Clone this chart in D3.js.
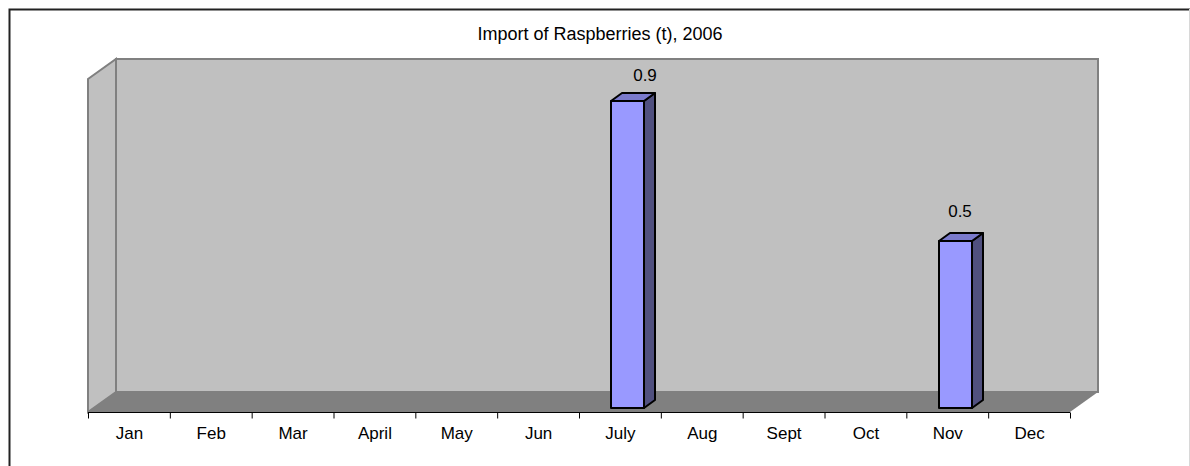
<!DOCTYPE html>
<html>
<head>
<meta charset="utf-8">
<script src="https://cdn.jsdelivr.net/npm/d3@7/dist/d3.min.js"></script>
<style>
html,body{margin:0;padding:0;background:#fff}
svg{display:block}
text{font-family:"Liberation Sans",Arial,sans-serif;fill:#000}
</style>
</head>
<body>
<svg id="c" width="1190" height="466"></svg>
<script>
const title = "Import of Raspberries (t), 2006";
const months = ["Jan","Feb","Mar","April","May","Jun","July","Aug","Sept","Oct","Nov","Dec"];
const imports = [null,null,null,null,null,null,0.92,null,null,null,0.5,null];

const svg = d3.select("#c");
const left = 88, right = 1070, axisY = 412, topY = 79, dx = 28, dy = 20;
const x = d3.scaleBand().domain(months).range([left, right]);
const y = d3.scaleLinear().domain([0, 1]).range([408, 74]);
const line = d3.line();
const labelNudge = {July:[34,-20], Nov:[21,-24]};

// frame
svg.append("path").attr("d","M9.5,466V9.5H1190").attr("fill","none").attr("stroke","#222").attr("stroke-width",2);
svg.append("rect").attr("x",1189).attr("y",9).attr("width",1).attr("height",457).attr("fill","#d8d8d8");

// back wall, side wall, floor
svg.append("rect").attr("x",left+dx).attr("y",topY-dy).attr("width",right-left).attr("height",axisY-topY)
  .attr("fill","#c0c0c0").attr("stroke","#808080").attr("stroke-width",2);
svg.append("path").attr("d",line([[left,topY],[left+dx,topY-dy],[left+dx,axisY-dy],[left,axisY]])+"Z")
  .attr("fill","#c0c0c0").attr("stroke","#808080").attr("stroke-width",2);
svg.append("path").attr("d",line([[left,axisY],[left+dx,axisY-dy],[right+dx,axisY-dy],[right,axisY]])+"Z")
  .attr("fill","#808080");

// axis
const axis = d3.axisBottom(x).tickSize(0).tickPadding(0);
const gx = svg.append("g").attr("transform",`translate(0,${axisY+.5})`).call(axis);
gx.select(".domain").attr("stroke","#000").attr("stroke-width",1).attr("d",`M${left},0H${right}`);
gx.selectAll("text").attr("font-size",17).attr("dy",null).attr("y",26.5).attr("x",0.5)
  .style("font-family",'"Liberation Sans",Arial,sans-serif').attr("fill","#000");
gx.selectAll(".edge").data(months.concat("end")).enter().append("line").attr("class","edge")
  .attr("x1",(d,i)=>left+i*x.step()+.5).attr("x2",(d,i)=>left+i*x.step()+.5)
  .attr("y1",0).attr("y2",6).attr("stroke","#000");

// bars
const bw = 33, bdx = 11, bdy = 8, shift = 8;
const data = months.map((m,i)=>({m,v:imports[i]})).filter(d=>d.v!=null);
const g = svg.append("g").attr("stroke","#000").attr("stroke-width",2).attr("stroke-linejoin","round");
data.forEach(d=>{
  const x0 = Math.round(x(d.m)+x.bandwidth()/2+shift-bw/2), x1 = x0+bw, yt = Math.round(y(d.v)), yb = y(0);
  g.append("path").attr("d",line([[x1,yt],[x1+bdx,yt-bdy],[x1+bdx,yb-bdy],[x1,yb]])+"Z").attr("fill","#50507f");
  g.append("path").attr("d",line([[x0,yt],[x0+bdx,yt-bdy],[x1+bdx,yt-bdy],[x1,yt]])+"Z").attr("fill","#7a7acc");
  g.append("rect").attr("x",x0).attr("y",yt).attr("width",bw).attr("height",yb-yt).attr("fill","#9999ff");
  svg.append("text").attr("x",x0+labelNudge[d.m][0]).attr("y",yt+labelNudge[d.m][1]).attr("text-anchor","middle").attr("font-size",17)
    .text(d3.format(".1f")(d.v));
});

svg.append("text").attr("x",600).attr("y",39.5).attr("text-anchor","middle").attr("font-size",18).text(title);
</script>
</body>
</html>
